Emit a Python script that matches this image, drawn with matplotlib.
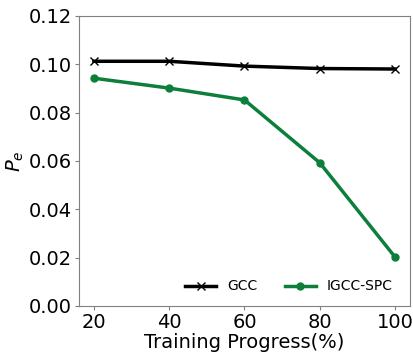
import numpy as np
import matplotlib
matplotlib.use("Agg")
import matplotlib.pyplot as plt

progress = [20, 40, 60, 80, 100]
gcc = [0.1012, 0.1012, 0.0992, 0.0982, 0.0980]
igcc_spc = [0.0942, 0.0901, 0.0852, 0.0592, 0.0202]

plt.rcParams["font.size"] = 14

fig, ax = plt.subplots(figsize=(4.13, 3.52), dpi=100)
ax.plot(progress, gcc, color="black", marker="x", linewidth=2.5, markersize=6, label="GCC")
ax.plot(progress, igcc_spc, color="#0b7f3b", marker="o", linewidth=2.5, markersize=5, label="IGCC-SPC")
ax.set_ylim(0, 0.12)
ax.set_xticks(progress)
ax.set_yticks(np.arange(0, 0.121, 0.02))
ax.tick_params(length=3, pad=2, color="gray")
ax.set_xlabel("Training Progress(%)", labelpad=1)
ax.set_ylabel("$P_e$", labelpad=2)
for s in ax.spines.values():
    s.set_color("gray")
ax.legend(loc="lower right", ncol=2, frameon=False, fontsize=10,
          bbox_to_anchor=(0.985, 0.0), columnspacing=2.0, handlelength=2.2)
fig.subplots_adjust(left=0.191, right=0.993, top=0.955, bottom=0.131)
fig.savefig("out.png")
